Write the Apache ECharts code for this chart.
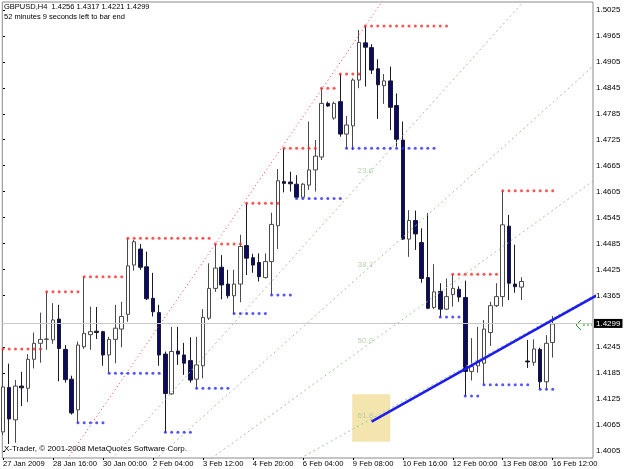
<!DOCTYPE html>
<html>
<head>
<meta charset="utf-8">
<script src="https://cdn.jsdelivr.net/npm/echarts@6/dist/echarts.min.js"></script>
<style>
  html, body { margin: 0; padding: 0; background: #fff; }
  #chart { width: 625px; height: 469px; }
</style>
</head>
<body>
<div id="chart"></div>
<script>
// GBPUSD H4 bars, 27 Jan - 16 Feb 2009 (bar index 0..88)
const open = [
  1.4049, 1.4152, 1.4077, 1.4155, 1.4150, 1.4217, 1.4254, 1.4263, 1.4262, 1.4310,
  1.4240, 1.4171, 1.4100, 1.4246, 1.4274, 1.4282, 1.4281, 1.4227, 1.4263, 1.4287,
  1.4321, 1.4435, 1.4472, 1.4431, 1.4358, 1.4325, 1.4229, 1.4137, 1.4236, 1.4227,
  1.4214, 1.4171, 1.4202, 1.4312, 1.4381, 1.4430, 1.4391, 1.4364, 1.4391, 1.4480,
  1.4452, 1.4441, 1.4406, 1.4443, 1.4526, 1.4628, 1.4627, 1.4622, 1.4592, 1.4620,
  1.4655, 1.4685, 1.4809, 1.4775, 1.4813, 1.4738, 1.4757, 1.4863, 1.4949, 1.4938,
  1.4889, 1.4850, 1.4861, 1.4804, 1.4724, 1.4495, 1.4538, 1.4487, 1.4406, 1.4337,
  1.4374, 1.4333, 1.4367, 1.4379, 1.4360, 1.4189, 1.4202, 1.4208, 1.4279, 1.4341,
  1.4362, 1.4525, 1.4391, 1.4384, 1.4213, 1.4210, 1.4240, 1.4165, 1.4256
];
const high = [
  1.4241, 1.4207, 1.4169, 1.4188, 1.4229, 1.4279, 1.4325, 1.4373, 1.4347, 1.4343,
  1.4250, 1.4179, 1.4258, 1.4408, 1.4339, 1.4338, 1.4283, 1.4269, 1.4343, 1.4350,
  1.4497, 1.4493, 1.4484, 1.4466, 1.4417, 1.4343, 1.4235, 1.4292, 1.4292, 1.4255,
  1.4268, 1.4269, 1.4333, 1.4439, 1.4484, 1.4458, 1.4424, 1.4424, 1.4505, 1.4578,
  1.4461, 1.4462, 1.4462, 1.4556, 1.4657, 1.4705, 1.4651, 1.4643, 1.4625, 1.4767,
  1.4724, 1.4844, 1.4813, 1.4813, 1.4877, 1.4780, 1.4867, 1.4979, 1.4988, 1.4946,
  1.4911, 1.4877, 1.4894, 1.4832, 1.4767, 1.4562, 1.4561, 1.4520, 1.4555, 1.4437,
  1.4393, 1.4404, 1.4414, 1.4386, 1.4399, 1.4266, 1.4292, 1.4308, 1.4350, 1.4393,
  1.4607, 1.4551, 1.4482, 1.4407, 1.4262, 1.4263, 1.4244, 1.4273, 1.4317
];
const low = [
  1.4042, 1.4021, 1.4024, 1.4109, 1.4118, 1.4196, 1.4209, 1.4239, 1.4253, 1.4166,
  1.4163, 1.4089, 1.4070, 1.4241, 1.4239, 1.4264, 1.4202, 1.4185, 1.4208, 1.4245,
  1.4304, 1.4422, 1.4424, 1.4354, 1.4316, 1.4202, 1.4048, 1.4135, 1.4204, 1.4181,
  1.4163, 1.4150, 1.4173, 1.4308, 1.4373, 1.4356, 1.4358, 1.4323, 1.4349, 1.4412,
  1.4417, 1.4397, 1.4404, 1.4366, 1.4472, 1.4603, 1.4605, 1.4589, 1.4590, 1.4609,
  1.4605, 1.4678, 1.4801, 1.4771, 1.4732, 1.4705, 1.4701, 1.4844, 1.4848, 1.4877,
  1.4773, 1.4808, 1.4747, 1.4709, 1.4493, 1.4454, 1.4470, 1.4394, 1.4333, 1.4333,
  1.4315, 1.4331, 1.4339, 1.4350, 1.4132, 1.4168, 1.4186, 1.4158, 1.4248, 1.4338,
  1.4339, 1.4354, 1.4371, 1.4354, 1.4197, 1.4202, 1.4148, 1.4148, 1.4221
];
const close = [
  1.4153, 1.4079, 1.4155, 1.4151, 1.4217, 1.4254, 1.4263, 1.4264, 1.4308, 1.4242,
  1.4170, 1.4093, 1.4250, 1.4277, 1.4281, 1.4279, 1.4227, 1.4263, 1.4289, 1.4316,
  1.4433, 1.4489, 1.4430, 1.4357, 1.4327, 1.4227, 1.4138, 1.4235, 1.4229, 1.4208,
  1.4169, 1.4204, 1.4314, 1.4381, 1.4428, 1.4389, 1.4364, 1.4391, 1.4478, 1.4451,
  1.4435, 1.4408, 1.4443, 1.4529, 1.4630, 1.4624, 1.4623, 1.4592, 1.4622, 1.4655,
  1.4687, 1.4809, 1.4803, 1.4809, 1.4738, 1.4759, 1.4863, 1.4950, 1.4939, 1.4886,
  1.4852, 1.4861, 1.4800, 1.4726, 1.4495, 1.4538, 1.4507, 1.4404, 1.4335, 1.4373,
  1.4333, 1.4362, 1.4381, 1.4361, 1.4189, 1.4200, 1.4212, 1.4287, 1.4341, 1.4362,
  1.4528, 1.4393, 1.4385, 1.4397, 1.4211, 1.4241, 1.4165, 1.4254, 1.4299
];

const tickBars = [0, 8, 16, 24, 32, 40, 48, 56, 64, 72, 80, 88];
const tickLabels = ['27 Jan 2009', '28 Jan 16:00', '30 Jan 00:00', '2 Feb 04:00', '3 Feb 12:00',
  '4 Feb 20:00', '6 Feb 04:00', '9 Feb 08:00', '10 Feb 16:00', '12 Feb 00:00', '13 Feb 08:00', '16 Feb 12:00'];
const priceTicks = [1.4005, 1.4065, 1.4125, 1.4185, 1.4245, 1.4365, 1.4425, 1.4485, 1.4545,
  1.4605, 1.4665, 1.4725, 1.4785, 1.4845, 1.4905, 1.4965, 1.5025];

// fractal levels: [first bar, last bar], level = high/low of first bar
const upFractals = [[0, 6], [7, 12], [13, 19], [20, 33], [34, 38], [39, 44], [45, 50],
  [51, 53], [54, 57], [58, 71], [72, 79], [80, 88]];
const downFractals = [[12, 16], [17, 25], [26, 30], [31, 36], [37, 42], [43, 46], [47, 54],
  [55, 69], [70, 73], [74, 76], [77, 84], [86, 88]];

// fibo fan (bar, price) anchors
const fanStart = [-12.6, 1.3505];
const fanEnd = [58, 1.4988];
const fanLevels = [0, 23.6, 38.2, 50, 61.8];
// trend line
const trendStart = [59, 1.4073];
const trendEnd = [88, 1.4308];
// shaded box around the 61.8 label
const boxFrom = [55.9, 1.4136];
const boxTo = [62.0, 1.4026];

const lastPrice = 1.4299;
const headerText = 'GBPUSD,H4  1.4256 1.4317 1.4221 1.4299';
const timerText = '52 minutes 9 seconds left to bar end';
const footerText = 'X-Trader, \u00a9 2001-2008 MetaQuotes Software Corp.';

const FONT = '"Liberation Sans", Arial, sans-serif';
const reach = 100;

const candles = open.map((o, i) => [i, o, close[i], low[i], high[i]]);

const upDots = [];
upFractals.forEach(([s, e]) => { for (let i = s; i <= e; i++) upDots.push([i, high[s]]); });
const downDots = [];
downFractals.forEach(([s, e]) => { for (let i = s; i <= e; i++) downDots.push([i, low[s]]); });

const fanPrice = lv => fanEnd[1] - lv / 100 * (fanEnd[1] - fanStart[1]);
const extend = (a, b, x) => a[1] + (b[1] - a[1]) * (x - a[0]) / (b[0] - a[0]);

const fanSeries = fanLevels.map(lv => {
  const p = [fanEnd[0], fanPrice(lv)];
  return {
    type: 'line',
    data: [fanStart, p, [reach, extend(fanStart, p, reach)]],
    symbol: 'none',
    silent: true,
    z: 3,
    lineStyle: lv === 0
      ? { color: '#ff3b3b', width: 1, type: [1, 3] }
      : { color: '#9fc79a', width: 1, type: [2, 3] }
  };
});

const chart = echarts.init(document.getElementById('chart'));

chart.setOption({
  animation: false,
  backgroundColor: '#ffffff',
  textStyle: { fontFamily: FONT },
  grid: {
    left: 2, top: 2, right: 32, bottom: 11,
    show: true,
    borderColor: '#8a8a8a',
    borderWidth: 1
  },
  xAxis: {
    type: 'value',
    min: -0.112,
    max: 94.448,
    axisLine: { show: false },
    splitLine: { show: false },
    axisTick: { show: true, customValues: tickBars, length: 2, lineStyle: { color: '#000' } },
    axisLabel: {
      customValues: tickBars,
      formatter: v => tickLabels[tickBars.indexOf(Math.round(v))],
      align: 'left',
      margin: 2,
      fontSize: 7.6,
      color: '#000'
    }
  },
  yAxis: {
    type: 'value',
    position: 'right',
    min: 1.39887,
    max: 1.50435,
    axisLine: { show: false },
    splitLine: { show: false },
    axisTick: { show: true, customValues: priceTicks, length: 2, lineStyle: { color: '#000' } },
    axisLabel: {
      customValues: priceTicks,
      formatter: v => v.toFixed(4),
      margin: 3,
      fontSize: 8,
      color: '#000'
    }
  },
  series: [
    {
      type: 'line',
      data: [],
      silent: true,
      z: 1,
      markArea: {
        silent: true,
        itemStyle: { color: '#f4e4ae' },
        data: [[{ coord: boxFrom }, { coord: boxTo }]]
      }
    },
    {
      type: 'candlestick',
      data: candles,
      encode: { x: 0, y: [1, 2, 3, 4] },
      barWidth: 4,
      z: 2,
      itemStyle: {
        color: '#ffffff',
        color0: '#0b0b66',
        borderColor: '#4a4a4a',
        borderColor0: '#1a1a2e',
        borderWidth: 1
      },
      markLine: {
        silent: true,
        symbol: ['none', 'none'],
        data: [{ yAxis: lastPrice }],
        lineStyle: { color: '#c8c8c8', type: 'solid', width: 1 },
        label: {
          position: 'end',
          formatter: lastPrice.toFixed(4),
          color: '#fff',
          backgroundColor: '#000',
          padding: [1, 2, 0, 2],
          fontSize: 8,
          distance: 1
        }
      }
    },
    ...fanSeries,
    {
      type: 'scatter',
      data: fanLevels.slice(1).map(lv => [fanEnd[0], fanPrice(lv), lv.toFixed(1)]),
      symbolSize: 0,
      silent: true,
      z: 3,
      label: {
        show: true,
        position: 'top',
        distance: 2,
        formatter: p => p.data[2],
        color: '#a9c49c',
        fontSize: 8
      }
    },
    {
      type: 'scatter',
      data: upDots,
      symbol: 'circle',
      symbolSize: 3,
      silent: true,
      z: 4,
      itemStyle: { color: '#ff2a2a' }
    },
    {
      type: 'scatter',
      data: downDots,
      symbol: 'circle',
      symbolSize: 3,
      silent: true,
      z: 4,
      itemStyle: { color: '#2a2aff' }
    },
    {
      type: 'line',
      data: [trendStart, trendEnd, [reach, extend(trendStart, trendEnd, reach)]],
      symbol: 'none',
      silent: true,
      z: 5,
      lineStyle: { color: '#1c1cf0', width: 2.5 }
    }
  ],
  graphic: [
    { type: 'text', left: 4, top: 3, style: { text: headerText, font: '7.5px ' + FONT, fill: '#000' } },
    { type: 'text', left: 4, top: 13, style: { text: timerText, font: '7.5px ' + FONT, fill: '#000' } },
    { type: 'text', left: 4, top: 445, style: { text: footerText, font: '8px ' + FONT, fill: '#000' } },
    {
      type: 'polyline', silent: true,
      shape: { points: [[581, 320], [576, 325], [581, 330]] },
      style: { stroke: '#2f9a2f', lineWidth: 1, fill: null }
    },
    {
      type: 'line', silent: true,
      shape: { x1: 583, y1: 325, x2: 592, y2: 325 },
      style: { stroke: '#2f9a2f', lineWidth: 1, lineDash: [2, 2] }
    }
  ]
});
</script>
</body>
</html>
